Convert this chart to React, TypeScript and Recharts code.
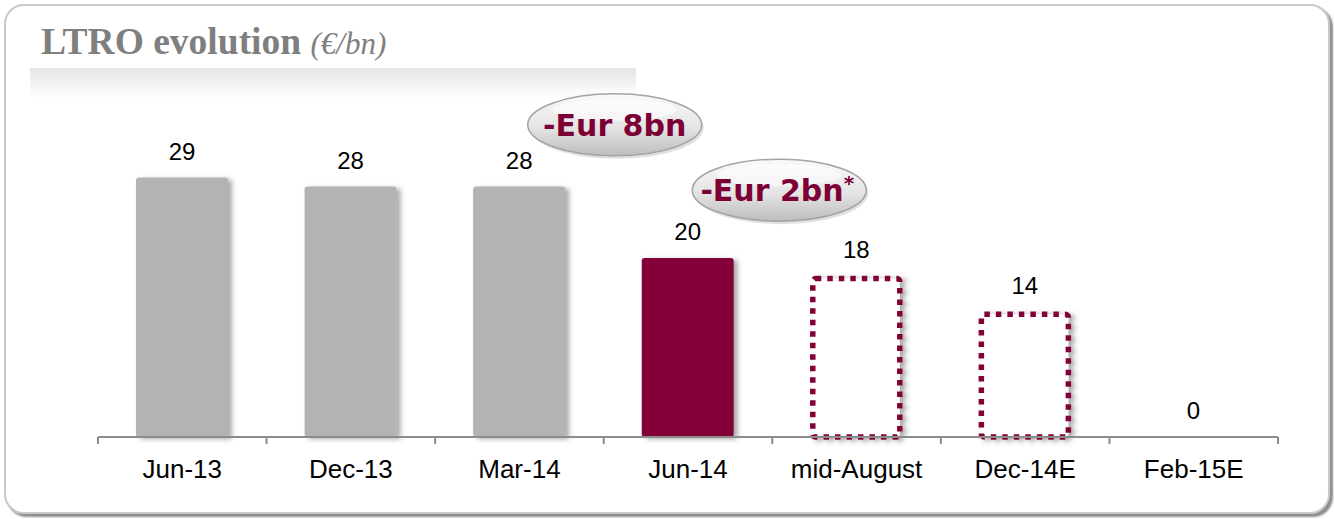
import React from "react";
import { Bar, BarChart, LabelList, ReferenceDot, XAxis, YAxis } from "recharts";

const categories = ["Jun-13", "Dec-13", "Mar-14", "Jun-14", "mid-August", "Dec-14E", "Feb-15E"];
const values = [29, 28, 28, 20, 18, 14, 0];
const kinds = ["actual", "actual", "actual", "current", "forecast", "forecast", "forecast"];

const calloutTexts = ["-Eur 8bn", "-Eur 2bn"];
const calloutLevels = [34.9, 27.6];

const data = categories.map((name, i) => ({ name, value: values[i], kind: kinds[i] }));

const W = 1334;
const H = 519;
const M = { top: 115, right: 56, bottom: 32, left: 98 };
const BAND = (W - M.left - M.right) / categories.length;

const MAROON = "#840038";
const GREY = "#b3b3b3";

function BarShape(props: any) {
  const { x, y, width, height, payload } = props;
  if (!height || height <= 0) return null;
  if (payload.kind === "forecast") {
    return (
      <g filter="url(#barShadow)">
        <rect
          x={x + 2.5}
          y={y + 2.5}
          width={width - 5}
          height={height - 2.5}
          rx={3}
          fill="#fff"
          stroke={MAROON}
          strokeWidth={5.5}
          strokeDasharray="5.5 6"
        />
      </g>
    );
  }
  return (
    <rect
      x={x}
      y={y}
      width={width}
      height={height}
      rx={3}
      fill={payload.kind === "current" ? MAROON : GREY}
      filter="url(#barShadow)"
    />
  );
}

function AxisTick(props: any) {
  const { x, y, payload, index } = props;
  const last = index === categories.length - 1;
  return (
    <g>
      <line x1={x - BAND / 2} x2={x - BAND / 2} y1={y} y2={y + 7} stroke="#8c8c8c" strokeWidth={2} />
      {last && <line x1={x + BAND / 2} x2={x + BAND / 2} y1={y} y2={y + 7} stroke="#8c8c8c" strokeWidth={2} />}
      <text x={x} y={y + 41} textAnchor="middle" fontFamily="Liberation Sans, Arial" fontSize={26} fill="#000">
        {payload.value}
      </text>
    </g>
  );
}

function makeCallout(text: string, dx: number, star: boolean) {
  return (props: any) => {
    const cx = props.cx + dx;
    const cy = props.cy;
    return (
      <g>
        <ellipse cx={cx + 2} cy={cy + 3} rx={87} ry={31} fill="#000" opacity={0.12} />
        <ellipse cx={cx} cy={cy} rx={87} ry={31} fill="url(#pill)" stroke="#a3a3a3" strokeWidth={1.5} />
        <ellipse cx={cx} cy={cy - 15} rx={62} ry={11} fill="#fff" opacity={0.55} />
        <text
          x={cx + (star ? -2 : 0)}
          y={cy + 11}
          textAnchor="middle"
          fontFamily="DejaVu Sans, Verdana"
          fontWeight="bold"
          fontSize={30}
          fill="#7d0035"
        >
          {text}
          {star && (
            <tspan dy={-11} fontSize={20}>
              *
            </tspan>
          )}
        </text>
      </g>
    );
  };
}

export default function App() {
  return (
    <div style={{ position: "absolute", left: 0, top: 0, width: W, height: H, background: "#fff", overflow: "hidden" }}>
      <div
        style={{
          position: "absolute",
          left: 4,
          top: 4,
          width: 1322,
          height: 506,
          border: "2px solid #c9c9c9",
          borderRadius: 20,
          boxShadow: "3px 3px 2px #8e8e8e",
          background: "#fff",
        }}
      />
      <div
        style={{
          position: "absolute",
          left: 30,
          top: 68,
          width: 606,
          height: 30,
          background: "linear-gradient(to bottom, #e6e6e6, rgba(255,255,255,0))",
        }}
      />
      <div
        style={{
          position: "absolute",
          left: 41,
          top: 42,
          fontFamily: "Liberation Serif, Times New Roman",
          color: "#7f7f7f",
          whiteSpace: "nowrap",
          lineHeight: 0,
        }}
      >
        <span style={{ fontSize: 37.5, fontWeight: "bold" }}>LTRO evolution </span>
        <span style={{ fontSize: 31, fontStyle: "italic" }}>(€/bn)</span>
      </div>
      <div style={{ position: "absolute", left: 0, top: 0 }}>
        <BarChart width={W} height={H} data={data} margin={M} barCategoryGap={0}>
          <defs>
            <filter id="barShadow" x="-20%" y="-10%" width="150%" height="130%">
              <feDropShadow dx={4} dy={2} stdDeviation={2.5} floodColor="#555" floodOpacity={0.5} />
            </filter>
            <linearGradient id="pill" x1="0" y1="0" x2="0" y2="1">
              <stop offset="0%" stopColor="#fafafa" />
              <stop offset="55%" stopColor="#e4e4e4" />
              <stop offset="100%" stopColor="#bdbdbd" />
            </linearGradient>
          </defs>
          <XAxis
            dataKey="name"
            axisLine={{ stroke: "#8c8c8c", strokeWidth: 2 }}
            tickLine={false}
            tickSize={0}
            tickMargin={0}
            height={50}
            interval={0}
            tick={<AxisTick />}
          />
          <YAxis hide domain={[0, 36]} />
          <Bar dataKey="value" barSize={92} shape={<BarShape />} isAnimationActive={false}>
            <LabelList
              dataKey="value"
              position="top"
              offset={18}
              fill="#000"
              fontSize={24}
              fontFamily="Liberation Sans, Arial"
            />
          </Bar>
          <ReferenceDot
            x="Jun-14"
            y={calloutLevels[0]}
            ifOverflow="visible"
            shape={makeCallout(calloutTexts[0], -BAND / 2 + 11, false)}
          />
          <ReferenceDot
            x="Jun-14"
            y={calloutLevels[1]}
            ifOverflow="visible"
            shape={makeCallout(calloutTexts[1], BAND / 2 + 7, true)}
          />
        </BarChart>
      </div>
    </div>
  );
}
